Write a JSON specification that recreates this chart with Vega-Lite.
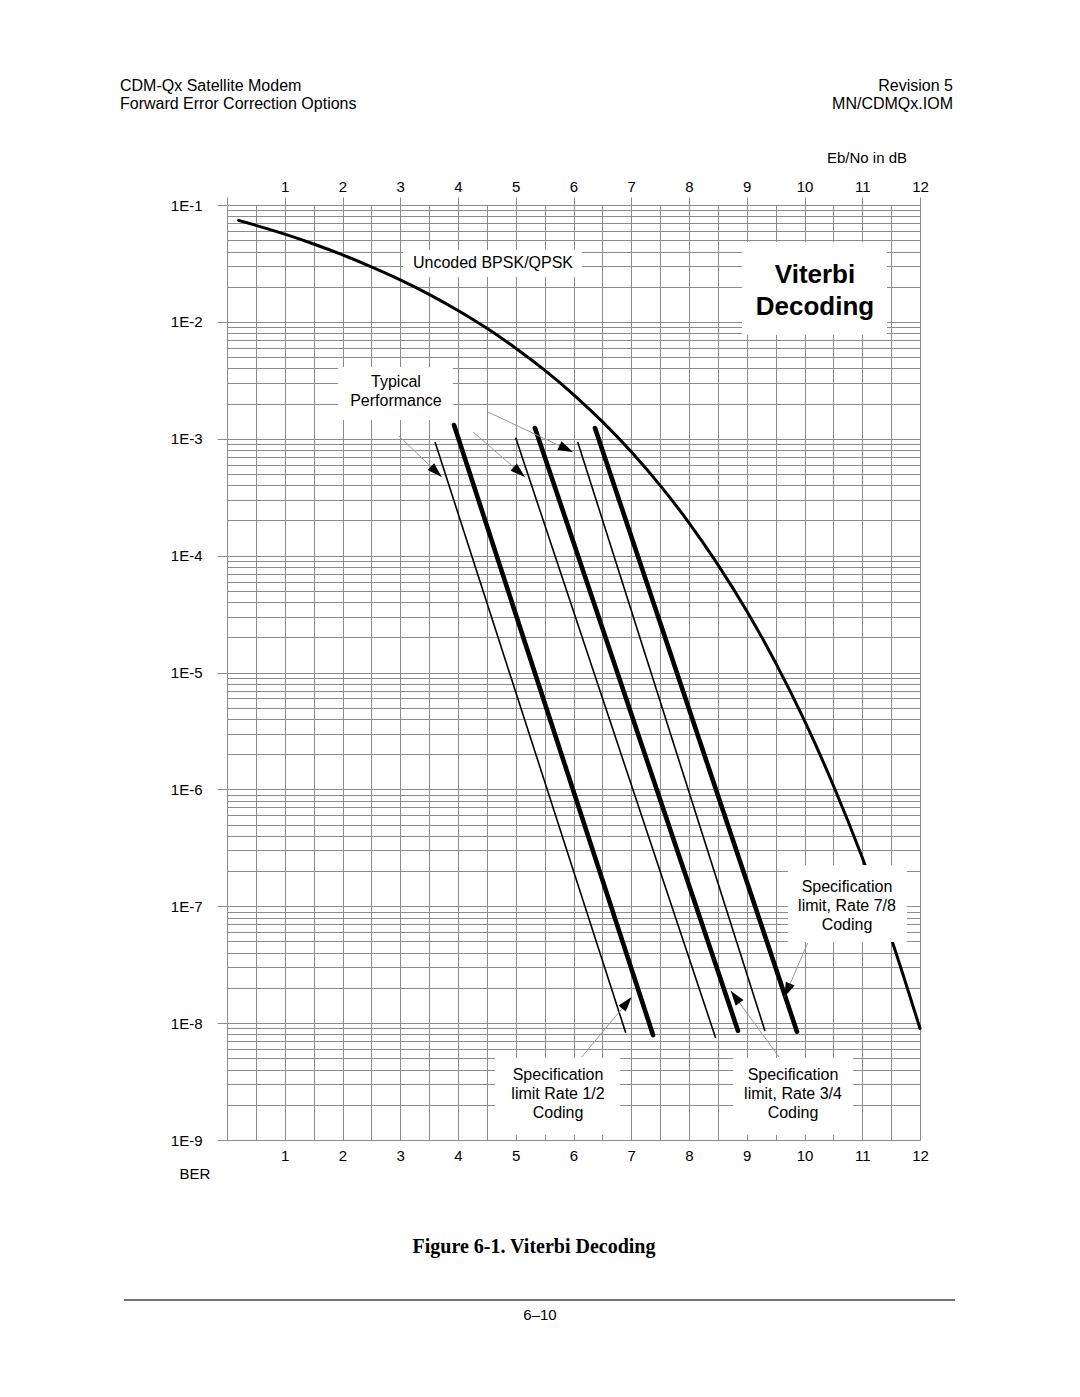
{
  "$schema": "https://vega.github.io/schema/vega-lite/v6.json",
  "width": 693,
  "height": 935,
  "autosize": {"type": "none"},
  "padding": {"left": 227, "top": 205, "right": 160, "bottom": 257},
  "background": "white",
  "config": {
    "view": {"stroke": null},
    "font": "Liberation Sans",
    "axis": {
      "labelFont": "Liberation Sans",
      "labelFontSize": 15,
      "labelColor": "#000000",
      "gridColor": "#8c8c8c",
      "gridWidth": 1,
      "tickColor": "#8c8c8c",
      "domain": false,
      "labelOverlap": false,
      "labelBound": false,
      "labelFlush": false
    }
  },
  "datasets": {
    "uncoded": [
      {"ebno": 0.2, "ber": 0.0738},
      {"ebno": 0.5, "ber": 0.067},
      {"ebno": 1, "ber": 0.0563},
      {"ebno": 1.5, "ber": 0.0464},
      {"ebno": 2, "ber": 0.0375},
      {"ebno": 2.5, "ber": 0.0296},
      {"ebno": 3, "ber": 0.0229},
      {"ebno": 3.5, "ber": 0.0172},
      {"ebno": 4, "ber": 0.0125},
      {"ebno": 4.5, "ber": 0.0088},
      {"ebno": 5, "ber": 0.00595},
      {"ebno": 5.5, "ber": 0.00386},
      {"ebno": 6, "ber": 0.00239},
      {"ebno": 6.5, "ber": 0.0014},
      {"ebno": 7, "ber": 0.000773},
      {"ebno": 7.5, "ber": 0.000399},
      {"ebno": 8, "ber": 0.000191},
      {"ebno": 8.5, "ber": 8.38e-5},
      {"ebno": 9, "ber": 3.36e-5},
      {"ebno": 9.5, "ber": 1.21e-5},
      {"ebno": 10, "ber": 3.87e-6},
      {"ebno": 10.5, "ber": 1.08e-6},
      {"ebno": 11, "ber": 2.61e-7},
      {"ebno": 11.5, "ber": 5.33e-8},
      {"ebno": 12, "ber": 9.0e-9}
    ],
    "coded": [
      {"rate": "1/2", "kind": "typical", "ebno": 3.602, "ber": 9.38e-4},
      {"rate": "1/2", "kind": "typical", "ebno": 6.904, "ber": 8.28e-9},
      {"rate": "1/2", "kind": "spec", "ebno": 3.931, "ber": 1.311e-3},
      {"rate": "1/2", "kind": "spec", "ebno": 7.377, "ber": 7.91e-9},
      {"rate": "3/4", "kind": "typical", "ebno": 4.999, "ber": 1.021e-3},
      {"rate": "3/4", "kind": "typical", "ebno": 8.462, "ber": 7.46e-9},
      {"rate": "3/4", "kind": "spec", "ebno": 5.333, "ber": 1.236e-3},
      {"rate": "3/4", "kind": "spec", "ebno": 8.848, "ber": 8.61e-9},
      {"rate": "7/8", "kind": "typical", "ebno": 6.073, "ber": 9.38e-4},
      {"rate": "7/8", "kind": "typical", "ebno": 9.316, "ber": 8.56e-9},
      {"rate": "7/8", "kind": "spec", "ebno": 6.372, "ber": 1.236e-3},
      {"rate": "7/8", "kind": "spec", "ebno": 9.87, "ber": 8.45e-9}
    ],
    "arrows": [
      {"note": "typical 1/2", "ebno": 2.978, "ber": 1.055e-3, "ebno2": 3.718, "ber2": 4.708e-4, "angle": 133.8},
      {"note": "typical 3/4", "ebno": 4.26, "ber": 1.142e-3, "ebno2": 5.16, "ber2": 4.708e-4, "angle": 130.9},
      {"note": "typical 7/8", "ebno": 4.519, "ber": 1.694e-3, "ebno2": 5.991, "ber2": 7.7e-4, "angle": 115.2},
      {"note": "spec 1/2", "ebno": 6.142, "ber": 5.13e-9, "ebno2": 7.008, "ber2": 1.673e-8, "angle": 39.8},
      {"note": "spec 3/4", "ebno": 9.558, "ber": 5.13e-9, "ebno2": 8.722, "ber2": 1.894e-8, "angle": -36.1},
      {"note": "spec 7/8", "ebno": 10.055, "ber": 4.85e-8, "ebno2": 9.65, "ber2": 1.663e-8, "angle": -156.7}
    ],
    "boxes": [
      {"box": "uncoded", "ebno": 3.048, "ebno2": 6.147, "ber": 0.04121, "ber2": 0.02421},
      {"box": "typical", "ebno": 1.922, "ebno2": 3.913, "ber": 0.004111, "ber2": 0.001447},
      {"box": "viterbi", "ebno": 8.918, "ebno2": 11.429, "ber": 0.04825, "ber2": 0.007719},
      {"box": "spec 1/2", "ebno": 4.641, "ebno2": 6.805, "ber": 5.03e-9, "ber2": 1.104e-9},
      {"box": "spec 3/4", "ebno": 8.762, "ebno2": 10.84, "ber": 5.03e-9, "ber2": 1.104e-9},
      {"box": "spec 7/8", "ebno": 9.714, "ebno2": 11.775, "ber": 2.254e-7, "ber2": 4.944e-8}
    ],
    "notes": [
      {"role": "label", "text": "Uncoded BPSK/QPSK", "ebno": 4.606, "ber": 0.03189},
      {"role": "label", "text": "Typical\nPerformance", "ebno": 2.926, "ber": 0.003059},
      {"role": "label", "text": "Specification\nlimit  Rate 1/2\nCoding", "ebno": 5.732, "ber": 3.598e-9},
      {"role": "label", "text": "Specification\nlimit, Rate 3/4\nCoding", "ebno": 9.801, "ber": 3.598e-9},
      {"role": "label", "text": "Specification\nlimit, Rate 7/8\nCoding", "ebno": 10.736, "ber": 1.461e-7},
      {"role": "title", "text": "Viterbi\nDecoding", "ebno": 10.182, "ber": 0.02543},
      {"role": "axisnote", "text": "Eb/No in dB", "ebno": 11.082, "ber": 0.2525},
      {"role": "axisnote", "text": "BER", "ebno": -0.554, "ber": 5.12e-10},
      {"role": "headerLeft", "text": "CDM-Qx Satellite Modem", "ebno": -1.853, "ber": 1.0428},
      {"role": "headerLeft", "text": "Forward Error Correction Options", "ebno": -1.853, "ber": 0.7315},
      {"role": "headerRight", "text": "Revision 5", "ebno": 12.571, "ber": 1.0428},
      {"role": "headerRight", "text": "MN/CDMQx.IOM", "ebno": 12.571, "ber": 0.7315},
      {"role": "caption", "text": "Figure 6-1. Viterbi Decoding", "ebno": 5.316, "ber": 1.2147e-10},
      {"role": "page", "text": "6–10", "ebno": 5.42, "ber": 3.183e-11}
    ],
    "pagerule": [
      {"ebno": -1.7835, "ebno2": 12.606, "ber": 4.276e-11}
    ]
  },
  "resolve": {"axis": {"x": "independent", "y": "independent"}},
  "layer": [
    {
      "data": {"name": "uncoded"},
      "mark": {"type": "line", "color": "#000000", "strokeWidth": 3, "strokeCap": "round", "interpolate": "monotone"},
      "encoding": {
        "x": {
          "field": "ebno", "type": "quantitative",
          "scale": {"domain": [0, 12], "nice": false, "zero": false},
          "axis": {
            "orient": "bottom",
            "title": null,
            "values": [0, 0.5, 1, 1.5, 2, 2.5, 3, 3.5, 4, 4.5, 5, 5.5, 6, 6.5, 7, 7.5, 8, 8.5, 9, 9.5, 10, 10.5, 11, 11.5, 12],
            "grid": true,
            "ticks": false,
            "labelPadding": 8,
            "labelExpr": "datum.value >= 1 && datum.value == round(datum.value) ? '' + datum.value : ''"
          }
        },
        "y": {
          "field": "ber", "type": "quantitative",
          "scale": {"type": "log", "domain": [1e-9, 0.1], "nice": false},
          "axis": {
            "orient": "left",
            "title": null,
            "values": [1e-9, 2e-9, 3e-9, 4e-9, 5e-9, 6e-9, 7e-9, 8e-9, 9e-9,
                       1e-8, 2e-8, 3e-8, 4e-8, 5e-8, 6e-8, 7e-8, 8e-8, 9e-8,
                       1e-7, 2e-7, 3e-7, 4e-7, 5e-7, 6e-7, 7e-7, 8e-7, 9e-7,
                       1e-6, 2e-6, 3e-6, 4e-6, 5e-6, 6e-6, 7e-6, 8e-6, 9e-6,
                       1e-5, 2e-5, 3e-5, 4e-5, 5e-5, 6e-5, 7e-5, 8e-5, 9e-5,
                       1e-4, 2e-4, 3e-4, 4e-4, 5e-4, 6e-4, 7e-4, 8e-4, 9e-4,
                       1e-3, 2e-3, 3e-3, 4e-3, 5e-3, 6e-3, 7e-3, 8e-3, 9e-3,
                       1e-2, 2e-2, 3e-2, 4e-2, 5e-2, 6e-2, 7e-2, 8e-2, 9e-2,
                       0.1],
            "grid": true,
            "tickSize": 10,
            "tickOpacity": {"condition": {"test": "abs(datum.value / pow(10, round(log(datum.value) / LN10)) - 1) < 0.001", "value": 1}, "value": 0},
            "labelPadding": 15,
            "labelExpr": "abs(datum.value / pow(10, round(log(datum.value) / LN10)) - 1) < 0.001 ? '1E' + round(log(datum.value) / LN10) : ''"
          }
        }
      }
    },
    {
      "data": {"name": "coded"},
      "transform": [{"filter": "datum.kind == 'typical'"}],
      "mark": {"type": "line", "color": "#000000", "strokeWidth": 1.6},
      "encoding": {
        "x": {
          "field": "ebno", "type": "quantitative",
          "scale": {"domain": [0, 12], "nice": false, "zero": false},
          "axis": {
            "orient": "top",
            "title": null,
            "values": [0, 1, 2, 3, 4, 5, 6, 7, 8, 9, 10, 11, 12],
            "grid": false,
            "tickSize": 8,
            "labelPadding": 3,
            "labelExpr": "datum.value >= 1 ? '' + datum.value : ''"
          }
        },
        "y": {"field": "ber", "type": "quantitative", "scale": {"type": "log", "domain": [1e-9, 0.1], "nice": false}, "axis": null},
        "detail": {"field": "rate", "type": "nominal"}
      }
    },
    {
      "data": {"name": "coded"},
      "transform": [{"filter": "datum.kind == 'spec'"}],
      "mark": {"type": "line", "color": "#000000", "strokeWidth": 4.6, "strokeCap": "round"},
      "encoding": {
        "x": {"field": "ebno", "type": "quantitative", "scale": {"domain": [0, 12], "nice": false, "zero": false}, "axis": null},
        "y": {"field": "ber", "type": "quantitative", "scale": {"type": "log", "domain": [1e-9, 0.1], "nice": false}, "axis": null},
        "detail": {"field": "rate", "type": "nominal"}
      }
    },
    {
      "data": {"name": "arrows"},
      "mark": {"type": "rule", "color": "#9a9a9a", "strokeWidth": 1},
      "encoding": {
        "x": {"field": "ebno", "type": "quantitative", "scale": {"domain": [0, 12], "nice": false, "zero": false}, "axis": null},
        "x2": {"field": "ebno2"},
        "y": {"field": "ber", "type": "quantitative", "scale": {"type": "log", "domain": [1e-9, 0.1], "nice": false}, "axis": null},
        "y2": {"field": "ber2"}
      }
    },
    {
      "data": {"name": "boxes"},
      "mark": {"type": "rect", "fill": "#ffffff", "strokeWidth": 0},
      "encoding": {
        "x": {"field": "ebno", "type": "quantitative", "scale": {"domain": [0, 12], "nice": false, "zero": false}, "axis": null},
        "x2": {"field": "ebno2"},
        "y": {"field": "ber", "type": "quantitative", "scale": {"type": "log", "domain": [1e-9, 0.1], "nice": false}, "axis": null},
        "y2": {"field": "ber2"}
      }
    },
    {
      "data": {"name": "arrows"},
      "mark": {"type": "point", "shape": "M0,0L0.32,1L-0.32,1Z", "size": 900, "filled": true, "color": "#000000", "opacity": 1, "strokeWidth": 0},
      "encoding": {
        "x": {"field": "ebno2", "type": "quantitative", "scale": {"domain": [0, 12], "nice": false, "zero": false}, "axis": null},
        "y": {"field": "ber2", "type": "quantitative", "scale": {"type": "log", "domain": [1e-9, 0.1], "nice": false}, "axis": null},
        "angle": {"field": "angle", "type": "quantitative", "scale": null}
      }
    },
    {
      "data": {"name": "pagerule"},
      "mark": {"type": "rule", "color": "#444444", "strokeWidth": 1.6},
      "encoding": {
        "x": {"field": "ebno", "type": "quantitative", "scale": {"domain": [0, 12], "nice": false, "zero": false}, "axis": null},
        "x2": {"field": "ebno2"},
        "y": {"field": "ber", "type": "quantitative", "scale": {"type": "log", "domain": [1e-9, 0.1], "nice": false}, "axis": null}
      }
    },
    {
      "data": {"name": "notes"},
      "transform": [{"filter": "datum.role == 'label'"}],
      "mark": {"type": "text", "align": "center", "baseline": "middle", "font": "Liberation Sans", "fontSize": 16, "lineBreak": "\n", "lineHeight": 19, "color": "#000000"},
      "encoding": {
        "x": {"field": "ebno", "type": "quantitative", "scale": {"domain": [0, 12], "nice": false, "zero": false}, "axis": null},
        "y": {"field": "ber", "type": "quantitative", "scale": {"type": "log", "domain": [1e-9, 0.1], "nice": false}, "axis": null},
        "text": {"field": "text", "type": "nominal"}
      }
    },
    {
      "data": {"name": "notes"},
      "transform": [{"filter": "datum.role == 'title'"}],
      "mark": {"type": "text", "align": "center", "baseline": "middle", "font": "Liberation Sans", "fontSize": 26, "fontWeight": "bold", "lineBreak": "\n", "lineHeight": 32, "color": "#000000"},
      "encoding": {
        "x": {"field": "ebno", "type": "quantitative", "scale": {"domain": [0, 12], "nice": false, "zero": false}, "axis": null},
        "y": {"field": "ber", "type": "quantitative", "scale": {"type": "log", "domain": [1e-9, 0.1], "nice": false}, "axis": null},
        "text": {"field": "text", "type": "nominal"}
      }
    },
    {
      "data": {"name": "notes"},
      "transform": [{"filter": "datum.role == 'axisnote' || datum.role == 'page'"}],
      "mark": {"type": "text", "align": "center", "baseline": "middle", "font": "Liberation Sans", "fontSize": 15, "color": "#000000"},
      "encoding": {
        "x": {"field": "ebno", "type": "quantitative", "scale": {"domain": [0, 12], "nice": false, "zero": false}, "axis": null},
        "y": {"field": "ber", "type": "quantitative", "scale": {"type": "log", "domain": [1e-9, 0.1], "nice": false}, "axis": null},
        "text": {"field": "text", "type": "nominal"}
      }
    },
    {
      "data": {"name": "notes"},
      "transform": [{"filter": "datum.role == 'headerLeft'"}],
      "mark": {"type": "text", "align": "left", "baseline": "middle", "font": "Liberation Sans", "fontSize": 16, "color": "#000000"},
      "encoding": {
        "x": {"field": "ebno", "type": "quantitative", "scale": {"domain": [0, 12], "nice": false, "zero": false}, "axis": null},
        "y": {"field": "ber", "type": "quantitative", "scale": {"type": "log", "domain": [1e-9, 0.1], "nice": false}, "axis": null},
        "text": {"field": "text", "type": "nominal"}
      }
    },
    {
      "data": {"name": "notes"},
      "transform": [{"filter": "datum.role == 'headerRight'"}],
      "mark": {"type": "text", "align": "right", "baseline": "middle", "font": "Liberation Sans", "fontSize": 16, "color": "#000000"},
      "encoding": {
        "x": {"field": "ebno", "type": "quantitative", "scale": {"domain": [0, 12], "nice": false, "zero": false}, "axis": null},
        "y": {"field": "ber", "type": "quantitative", "scale": {"type": "log", "domain": [1e-9, 0.1], "nice": false}, "axis": null},
        "text": {"field": "text", "type": "nominal"}
      }
    },
    {
      "data": {"name": "notes"},
      "transform": [{"filter": "datum.role == 'caption'"}],
      "mark": {"type": "text", "align": "center", "baseline": "middle", "font": "Liberation Serif", "fontSize": 20, "fontWeight": "bold", "color": "#000000"},
      "encoding": {
        "x": {"field": "ebno", "type": "quantitative", "scale": {"domain": [0, 12], "nice": false, "zero": false}, "axis": null},
        "y": {"field": "ber", "type": "quantitative", "scale": {"type": "log", "domain": [1e-9, 0.1], "nice": false}, "axis": null},
        "text": {"field": "text", "type": "nominal"}
      }
    }
  ]
}
